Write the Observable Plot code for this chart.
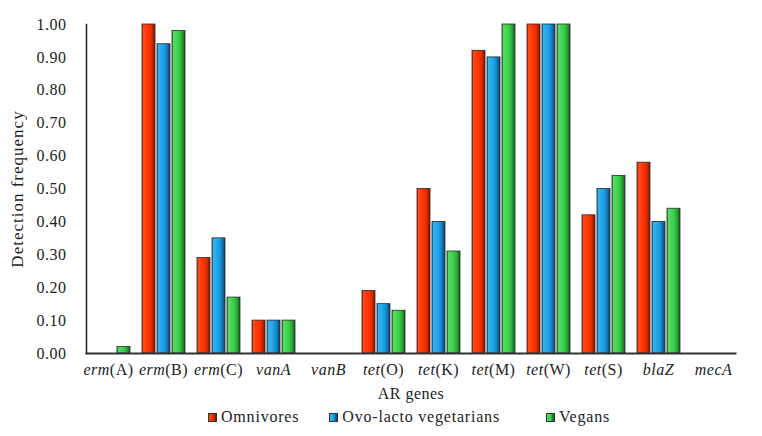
<!DOCTYPE html>
<html><head><meta charset="utf-8">
<script src="https://cdn.jsdelivr.net/npm/d3@7"></script>
<script src="https://cdn.jsdelivr.net/npm/@observablehq/plot@0.6"></script>
<style>
body{margin:0;background:#fff;font-family:"Liberation Serif","Times New Roman",serif;}
#legend{display:flex;justify-content:flex-start;padding-left:208px;font-size:16px;letter-spacing:0.8px;color:#222;margin-top:2px;line-height:20px}
.item{display:flex;align-items:center;gap:4px}
.item:nth-child(1){margin-right:30px}
.item:nth-child(2){margin-right:46px}
.sw{width:9px;height:9px;box-sizing:border-box;border:1px solid #333}
</style></head><body>
<div id="chart"></div>
<div id="legend"></div>
<script>
const genes = ["erm(A)","erm(B)","erm(C)","vanA","vanB","tet(O)","tet(K)","tet(M)","tet(W)","tet(S)","blaZ","mecA"];
const series = ["Omnivores","Ovo-lacto vegetarians","Vegans"];
const omnivores = [0, 1.00, 0.29, 0.10, 0, 0.19, 0.50, 0.92, 1.00, 0.42, 0.58, 0];
const ovoLacto  = [0, 0.94, 0.35, 0.10, 0, 0.15, 0.40, 0.90, 1.00, 0.50, 0.40, 0];
const vegans    = [0.02, 0.98, 0.17, 0.10, 0, 0.13, 0.31, 1.00, 1.00, 0.54, 0.44, 0];
const yTicks = [0, 0.1, 0.2, 0.3, 0.4, 0.5, 0.6, 0.7, 0.8, 0.9, 1.0];
const seriesValues = [omnivores, ovoLacto, vegans];
const gradients = [
  ["#b82200", "#ff4a1c", "#ff3300", "#e62c00", "#7c1400"],
  ["#0f6fae", "#34b4f0", "#1ea2e6", "#1786c8", "#0a3f6e"],
  ["#23922f", "#55dd62", "#3ccf4c", "#2fb23d", "#155c1c"]
];

const table = [];
series.forEach((s, i) => genes.forEach((g, j) => table.push({gene: g, series: s, value: seriesValues[i][j]})));

const bars = series.map((s, i) => Plot.barY(table, {
  filter: d => d.series === s && d.value > 0,
  fx: "gene", x: "series", y: "value",
  fill: `url(#grad${i})`, stroke: "#2a2a2a", strokeWidth: 0.8
}));

const chart = Plot.plot({
  width: 762, height: 405,
  marginLeft: 78, marginRight: 20, marginTop: 24, marginBottom: 52,
  style: "font-family:'Liberation Serif','Times New Roman',serif;font-size:16px;letter-spacing:0.5px;color:#222;background:#fff;overflow:visible",
  fx: {domain: genes, paddingInner: 0.2, paddingOuter: 0.1},
  x: {domain: series, axis: null, paddingInner: 0.15, paddingOuter: 0},
  y: {domain: [0, 1]},
  marks: [
    ...bars,
    Plot.axisY({ticks: yTicks, tickFormat: d3.format(".2f"), tickSize: 0, tickPadding: 20,
      label: "Detection frequency", labelAnchor: "center", labelArrow: "none", labelOffset: 76}),
    Plot.axisFx({anchor: "bottom", tickSize: 0, tickPadding: 10,
      label: "AR genes", labelAnchor: "center", labelOffset: 45}),
    Plot.frame({anchor: "bottom", facet: "super", stroke: "#333", strokeWidth: 2}),
    Plot.frame({anchor: "left", facet: "super", stroke: "#222", strokeWidth: 1.5})
  ]
});

const svg = d3.select(chart);
const defs = svg.insert("defs", ":first-child");
gradients.forEach((c, i) => {
  const lg = defs.append("linearGradient").attr("id", `grad${i}`).attr("x1", "0").attr("x2", "1").attr("y1", "0").attr("y2", "0");
  [0, 0.12, 0.5, 0.72, 1].forEach((o, k) => lg.append("stop").attr("offset", o).attr("stop-color", c[k]));
});

// y-axis title: slightly larger and more open, as in the original
svg.selectAll('g[aria-label="y-axis label"] text').style("font-size", "17px").style("letter-spacing", "1px");

// italicise gene names in the fx tick labels
svg.selectAll('g[aria-label="fx-axis tick label"] text').each(function() {
  const t = this.textContent;
  const idx = t.indexOf("(");
  const el = d3.select(this);
  el.text("");
  if (idx < 0) {
    el.append("tspan").attr("font-style", "italic").text(t);
  } else {
    el.append("tspan").attr("font-style", "italic").text(t.slice(0, idx));
    el.append("tspan").text(t.slice(idx));
  }
});

document.getElementById("chart").appendChild(chart);

const legend = d3.select("#legend");
series.forEach((s, i) => {
  const it = legend.append("div").attr("class", "item");
  it.append("div").attr("class", "sw")
    .style("background", `linear-gradient(90deg, ${gradients[i][1]}, ${gradients[i][2]} 50%, ${gradients[i][4]})`);
  it.append("span").text(s);
});
</script>
</body></html>
